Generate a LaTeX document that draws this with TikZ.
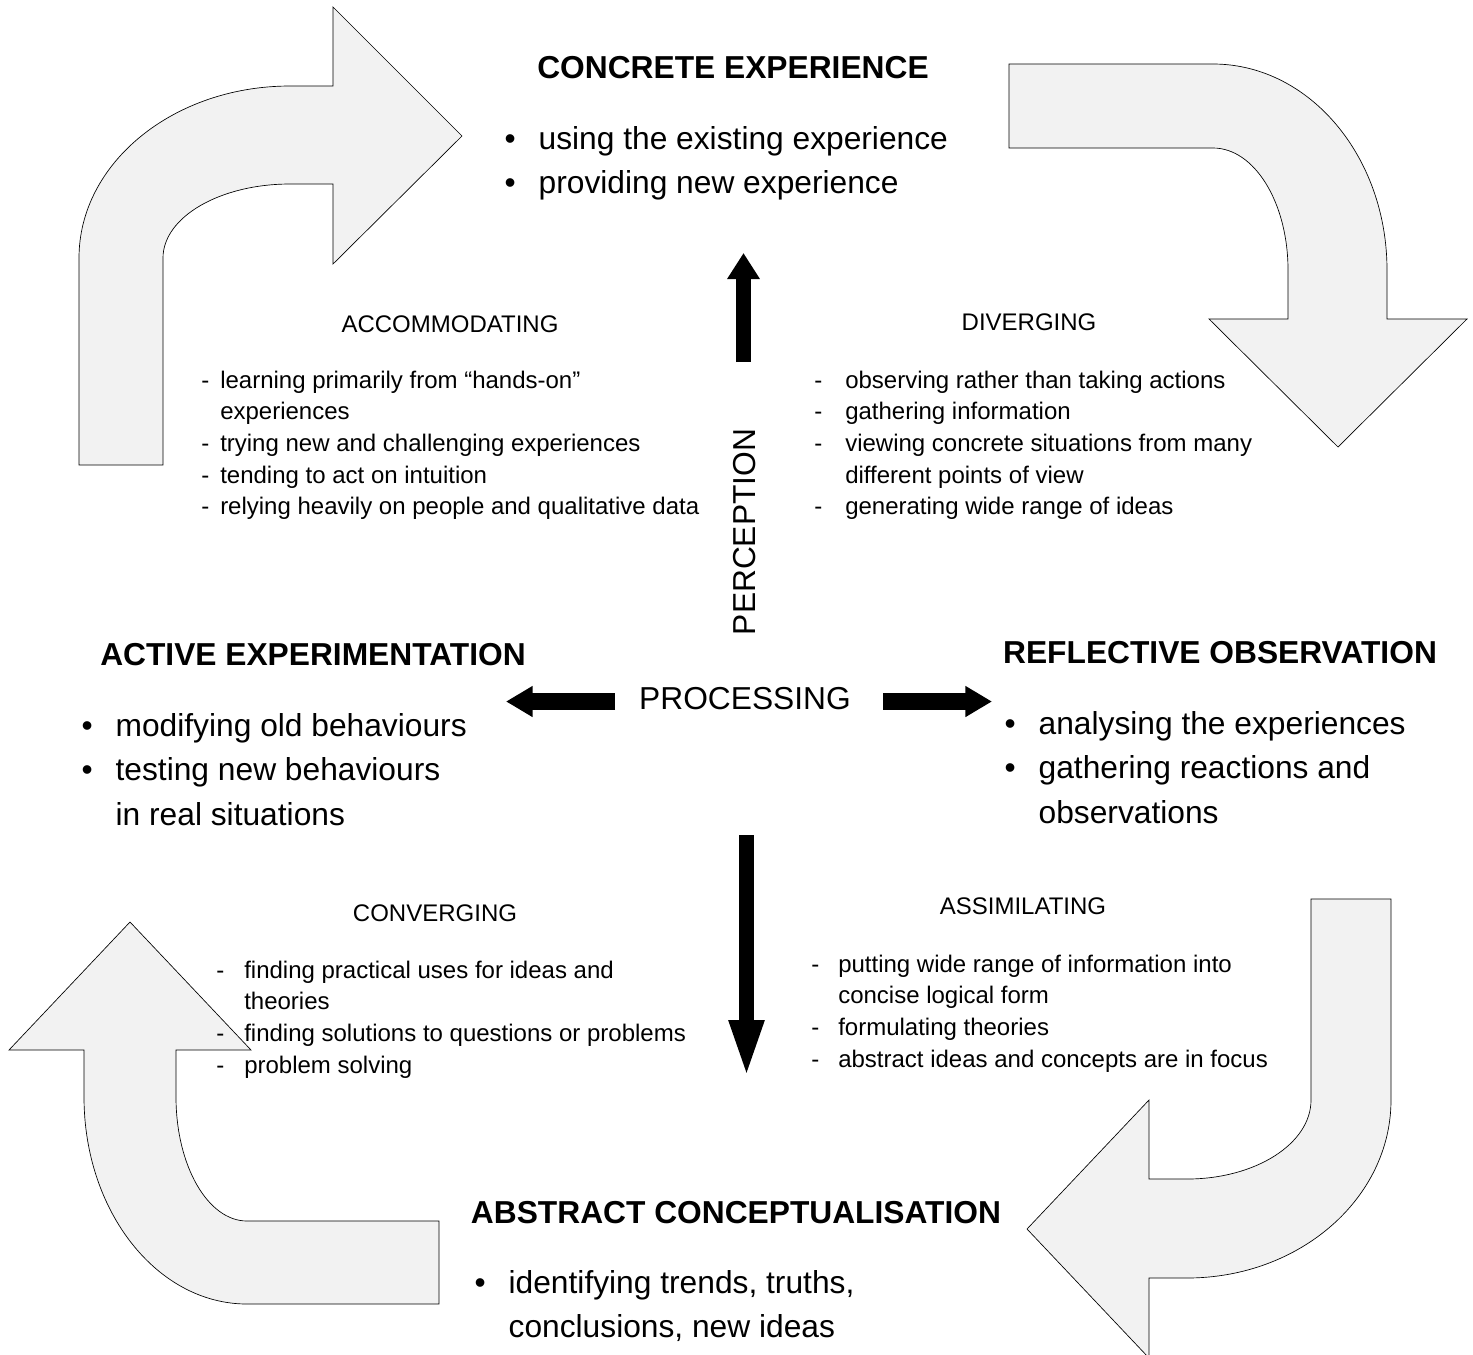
\documentclass[tikz,border=0pt]{standalone}
\usepackage{fontspec}
\setmainfont{Liberation Sans}
\usetikzlibrary{arrows.meta}
\definecolor{pale}{HTML}{F2F2F2}

\begin{document}
\begin{tikzpicture}[x=0.75pt, y=-0.75pt,
      curl/.style={fill=pale, draw=black, line width=0.5pt},
      head/.style={font=\bfseries\fontsize{23.8}{28}\selectfont, inner sep=0pt},
      kind/.style={font=\fontsize{18}{22}\selectfont, inner sep=0pt},
      big/.style={font=\fontsize{23.8}{33.5}\selectfont, inner sep=0pt, anchor=base west},
      small/.style={font=\fontsize{18}{23.8}\selectfont, inner sep=0pt, anchor=base west},
      fat/.style={line width=11.25pt, -{Triangle[length=19.5pt, width=23.25pt]}},
      side/.style={line width=12.75pt, -{Triangle[length=20pt, width=22pt]}}]
  \useasboundingbox (0,0) rectangle (1473,1354);
  \clip (0,0) rectangle (1473,1354);

  \draw[curl] (79,465) -- (79,258) arc[start angle=180, end angle=270, x radius=211, y radius=172]
    -- (333,86) -- (333,7) -- (462,136) -- (333,264) -- (333,184) -- (290,184)
    arc[start angle=270, end angle=180, x radius=127, y radius=74] -- (163,465) -- cycle;
  \draw[curl] (1009,64) -- (1213,64) arc[start angle=270, end angle=360, x radius=174, y radius=206]
    -- (1387,319) -- (1467,319) -- (1338,447) -- (1209,319) -- (1288,319) -- (1288,270)
    arc[start angle=0, end angle=-90, x radius=75, y radius=122] -- (1009,148) -- cycle;
  \draw[curl] (1311,899) -- (1391,899) -- (1391,1100) arc[start angle=0, end angle=90, x radius=204, y radius=178]
    -- (1149,1278) -- (1149,1358) -- (1027,1229) -- (1149,1100) -- (1149,1179) -- (1187,1179)
    arc[start angle=90, end angle=0, x radius=124, y radius=79] -- cycle;
  \draw[curl] (439,1221) -- (439,1304) -- (247,1304) arc[start angle=90, end angle=180, x radius=163, y radius=207]
    -- (84,1050) -- (9,1050) -- (130,922) -- (251,1050) -- (176,1050) -- (176,1097)
    arc[start angle=180, end angle=90, x radius=71, y radius=124] -- cycle;

  \node[head] (ce) at (733,68) {CONCRETE EXPERIENCE};
  \node[big] (cel) at (504.4,149) {\begin{tabular}[t]{@{}l@{}}
      \makebox[25.5pt][l]{•}using the existing experience\\
      \makebox[25.5pt][l]{•}providing new experience\end{tabular}};
  \node[head] (ae) at (313,655) {ACTIVE EXPERIMENTATION};
  \node[big] (ael) at (81.4,736) {\begin{tabular}[t]{@{}l@{}}
      \makebox[25.5pt][l]{•}modifying old behaviours\\
      \makebox[25.5pt][l]{•}testing new behaviours\\
      \hspace{25.5pt}in real situations\end{tabular}};
  \node[head] (ro) at (1220,653) {REFLECTIVE OBSERVATION};
  \node[big] (rol) at (1004.4,734) {\begin{tabular}[t]{@{}l@{}}
      \makebox[25.5pt][l]{•}analysing the experiences\\
      \makebox[25.5pt][l]{•}gathering reactions and\\
      \hspace{25.5pt}observations\end{tabular}};
  \node[head] (ac) at (736,1213) {ABSTRACT CONCEPTUALISATION};
  \node[big] (acl) at (474.4,1293) {\begin{tabular}[t]{@{}l@{}}
      \makebox[25.5pt][l]{•}identifying trends, truths,\\
      \hspace{25.5pt}conclusions, new ideas\end{tabular}};

  \node[kind] (acc) at (450,324) {ACCOMMODATING};
  \node[small] (accl) at (201,388) {\begin{tabular}[t]{@{}l@{}}
      \makebox[14.25pt][l]{-}learning primarily from “hands-on”\\
      \hspace{14.25pt}experiences\\
      \makebox[14.25pt][l]{-}trying new and challenging experiences\\
      \makebox[14.25pt][l]{-}tending to act on intuition\\
      \makebox[14.25pt][l]{-}relying heavily on people and qualitative data\end{tabular}};
  \node[kind] (div) at (1029,322) {DIVERGING};
  \node[small] (divl) at (814,388) {\begin{tabular}[t]{@{}l@{}}
      \makebox[23.25pt][l]{-}observing rather than taking actions\\
      \makebox[23.25pt][l]{-}gathering information\\
      \makebox[23.25pt][l]{-}viewing concrete situations from many\\
      \hspace{23.25pt}different points of view\\
      \makebox[23.25pt][l]{-}generating wide range of ideas\end{tabular}};
  \node[kind] (con) at (435,913) {CONVERGING};
  \node[small] (conl) at (216,978) {\begin{tabular}[t]{@{}l@{}}
      \makebox[21pt][l]{-}finding practical uses for ideas and\\
      \hspace{21pt}theories\\
      \makebox[21pt][l]{-}finding solutions to questions or problems\\
      \makebox[21pt][l]{-}problem solving\end{tabular}};
  \node[kind] (ass) at (1023,906) {ASSIMILATING};
  \node[small] (assl) at (811,972) {\begin{tabular}[t]{@{}l@{}}
      \makebox[20.25pt][l]{-}putting wide range of information into\\
      \hspace{20.25pt}concise logical form\\
      \makebox[20.25pt][l]{-}formulating theories\\
      \makebox[20.25pt][l]{-}abstract ideas and concepts are in focus\end{tabular}};

  \node[font=\fontsize{23.8}{28}\selectfont, inner sep=0pt] (proc) at (745,699) {PROCESSING};
  \node[font=\fontsize{23.8}{28}\selectfont, inner sep=0pt, rotate=90] (perc) at (745,532) {PERCEPTION};

  \coordinate (up0) at (743.5,362);
  \coordinate (up1) at (743.5,253);
  \coordinate (dn0) at (746.5,835);
  \coordinate (dn1) at (746.5,1080);
  \coordinate (lf0) at (615,701.5);
  \coordinate (lf1) at (506,701.5);
  \coordinate (rt0) at (883,701.5);
  \coordinate (rt1) at (992,701.5);
  \draw[fat] (up0) -- (up1);
  \draw[fat, -{Triangle[length=45pt, width=23.25pt]}] (dn0) -- (dn1);
  \draw[side] (lf0) -- (lf1);
  \draw[side] (rt0) -- (rt1);
\end{tikzpicture}
\end{document}
